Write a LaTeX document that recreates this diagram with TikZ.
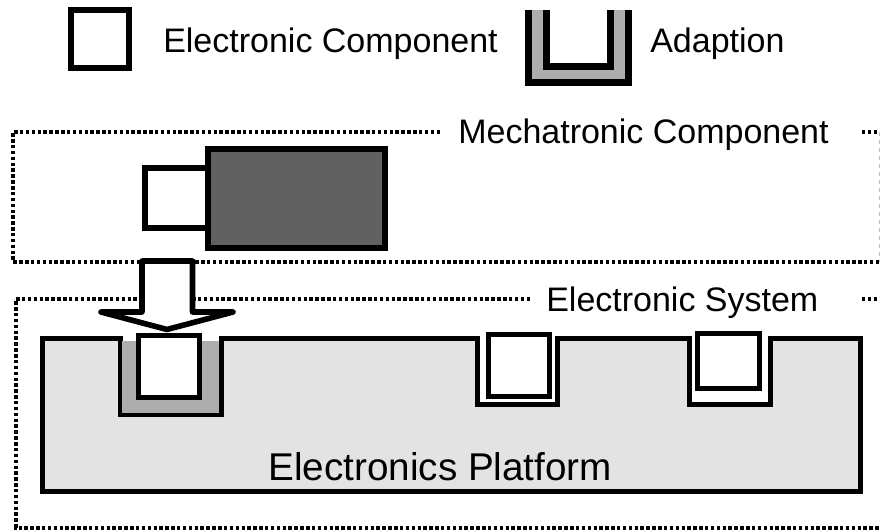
\documentclass[tikz,border=0pt]{standalone}
\usepackage{fontspec}
\setmainfont{Liberation Sans}
\definecolor{platfill}{gray}{0.89}
\definecolor{adaptfill}{gray}{0.68}
\definecolor{darkfill}{gray}{0.38}
\begin{document}
\begin{tikzpicture}[x=0.75pt,y=-0.75pt,
  bound/.style={line width=3pt,dash pattern=on 2.6pt off 1.8pt,line cap=butt},
  compbox/.style={draw,line width=3.75pt,fill=white},
  thickline/.style={line width=4.5pt},
  lbl/.style={anchor=base west,inner sep=0pt,font=\fontsize{25.5}{30}\selectfont},
  biglbl/.style={anchor=base west,inner sep=0pt,font=\fontsize{29}{34}\selectfont},
 ]
\useasboundingbox (0,0) rectangle (880,531);

% ---- legend ----
\draw[thickline] (71,10) rectangle (129,68);
\node[lbl] (lec) at (163,53) {Electronic Component};
\fill[adaptfill] (528.5,10) rectangle (628.5,83);
\fill[white] (546.5,10) rectangle (610.5,66.5);
\draw[line width=5.25pt] (528.5,10) |- (628.5,83) -- (628.5,10);
\draw[line width=5.25pt] (546.5,10) |- (610.5,66.5) -- (610.5,10);
\node[lbl] (lad) at (650,53) {Adaption};

% ---- mechatronic component ----
\draw[bound] (440,132) -| (13,262) -- (880,262);
\draw[bound] (862,132) -- (880,132);
\draw[gray!50,thin,dashed] (879,132) -- (879,262);
\node[lbl] (mech) at (458,143) {Mechatronic Component};
\draw[line width=4.2pt,fill=white] (145,168) rectangle (208,228);
\draw[thickline,fill=darkfill] (208,149) rectangle (385,248);

% ---- electronic system ----
\draw[bound] (530,299) -| (16,527.5) -- (880,527.5);
\draw[bound] (862,299) -- (880,299);
\node[lbl] (esys) at (546,311) {Electronic System};

% ---- platform ----
\draw[line width=3.75pt,fill=platfill]
  (42.5,338) -- (120,338) -- (120,414.5) -- (221,414.5) -- (221,338)
  -- (477.5,338) -- (477.5,404.5) -- (557.5,404.5) -- (557.5,338)
  -- (689.5,338) -- (689.5,404.5) -- (770.5,404.5) -- (770.5,338)
  -- (860.5,338) -- (860.5,491) -- (42.5,491) -- cycle;
\fill[adaptfill] (122,341) rectangle (219,412.5);
\node[biglbl] (plat) at (268,480) {Electronics Platform};

\draw[compbox] (138.5,335.5) rectangle (199.5,397.5);
\draw[compbox] (488.5,334.5) rectangle (549.5,396);
\draw[compbox] (697.5,333.5) rectangle (759.5,388.5);

% ---- arrow ----
\draw[line width=4.2pt,fill=white,line join=round]
  (142,261) -- (192.5,261) -- (192.5,312) -- (233,312) -- (167,329.5)
  -- (101,312) -- (142,312) -- cycle;
\end{tikzpicture}
\end{document}
